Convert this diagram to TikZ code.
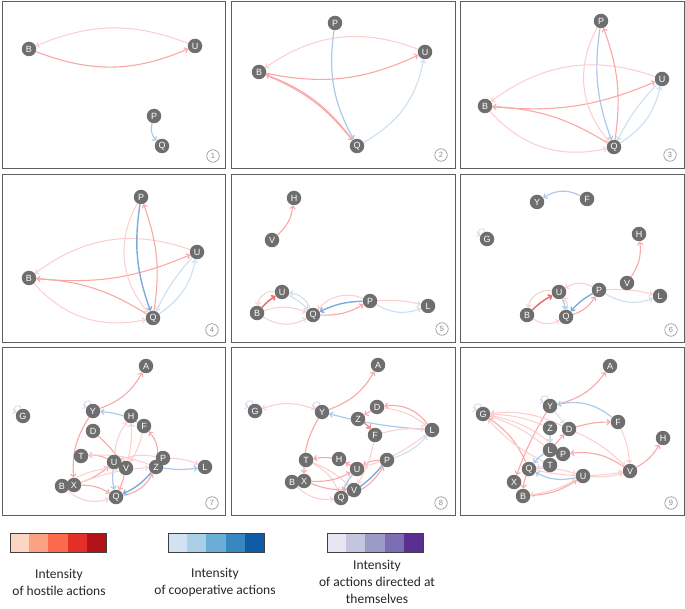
\documentclass[tikz,border=0pt]{standalone}
\usepackage{fontspec}
\setmainfont{Liberation Sans}
\newfontfamily\legfont{Carlito}
\usetikzlibrary{arrows.meta}
\definecolor{ndgray}{HTML}{6E6E6E}
\definecolor{numgray}{HTML}{8A8A8A}
\definecolor{framegray}{HTML}{5E5E5E}
\definecolor{hostA}{HTML}{FCCDCD}
\definecolor{hostB}{HTML}{F9A8A8}
\definecolor{hostC}{HTML}{F58585}
\definecolor{hostD}{HTML}{EF6C6C}
\definecolor{coopA}{HTML}{CCDFF1}
\definecolor{coopB}{HTML}{A9CAEA}
\definecolor{coopC}{HTML}{7DACDA}
\definecolor{selfA}{HTML}{DCD4EC}
\definecolor{rA}{HTML}{FDD5C3}
\definecolor{rB}{HTML}{FCA183}
\definecolor{rC}{HTML}{FB6A4A}
\definecolor{rD}{HTML}{E32F27}
\definecolor{rE}{HTML}{B11218}
\definecolor{bA}{HTML}{D1E2F3}
\definecolor{bB}{HTML}{ABCFE6}
\definecolor{bC}{HTML}{6AAED6}
\definecolor{bD}{HTML}{3787C0}
\definecolor{bE}{HTML}{0F5BA5}
\definecolor{uA}{HTML}{E8E6F2}
\definecolor{uB}{HTML}{C6C5E0}
\definecolor{uC}{HTML}{9E9AC8}
\definecolor{uD}{HTML}{7D6DB5}
\definecolor{uE}{HTML}{5B2F92}
\pgfdeclarelayer{edgelayer}
\pgfsetlayers{edgelayer,main}
\begin{document}
\begin{tikzpicture}[x=1pt,y=-1pt,
  >={Straight Barb[length=2.8pt,width=5.5pt]},
  nd/.style={circle, fill=ndgray, text=white, inner sep=0pt, minimum size=14.5pt, font=\fontsize{9}{9}\selectfont},
  numlab/.style={circle, draw=numgray, line width=0.6pt, text=numgray, inner sep=0pt, minimum size=12.5pt, font=\fontsize{7.5}{8}\selectfont},
  panel/.style={draw=framegray, line width=0.9pt},
  hA/.style={->, draw=hostA, line width=1pt},
  hB/.style={->, draw=hostB, line width=1.1pt},
  hC/.style={->, draw=hostC, line width=1.3pt},
  hD/.style={->, draw=hostD, line width=1.5pt},
  cA/.style={->, draw=coopA, line width=1.1pt},
  cB/.style={->, draw=coopB, line width=1.2pt},
  cC/.style={->, draw=coopC, line width=1.4pt},
  sA/.style={->, draw=selfA, line width=0.8pt},
  legframe/.style={draw=black!75, line width=0.8pt},
  legtext/.style={align=center, font=\legfont\fontsize{13.5}{17}\selectfont, text=black!85}
]
\useasboundingbox (0,0) rectangle (685,609);
% frames
\draw[panel] (2,1) rectangle (225,168);
\draw[panel] (231,1) rectangle (455,168);
\draw[panel] (460,1) rectangle (684,168);
\draw[panel] (2,174) rectangle (225,342);
\draw[panel] (231,174) rectangle (455,342);
\draw[panel] (460,174) rectangle (684,342);
\draw[panel] (2,347) rectangle (225,515);
\draw[panel] (231,347) rectangle (455,515);
\draw[panel] (460,347) rectangle (684,515);

% ---------- panel 1
\node[nd] (p1B) at (29,49) {B};
\node[nd] (p1U) at (195,46) {U};
\node[nd] (p1P) at (154,116) {P};
\node[nd] (p1Q) at (162,146) {Q};
\node[numlab] (n1) at (213,156) {1};
% ---------- panel 2
\node[nd] (p2P) at (335,23) {P};
\node[nd] (p2U) at (425,52) {U};
\node[nd] (p2B) at (259,72) {B};
\node[nd] (p2Q) at (357,146) {Q};
\node[numlab] (n2) at (441,155) {2};
% ---------- panel 3
\node[nd] (p3P) at (601,21) {P};
\node[nd] (p3U) at (662,79) {U};
\node[nd] (p3B) at (485,106) {B};
\node[nd] (p3Q) at (614,147) {Q};
\node[numlab] (n3) at (670,155) {3};
% ---------- panel 4
\node[nd] (p4P) at (141,197) {P};
\node[nd] (p4U) at (197,252) {U};
\node[nd] (p4B) at (29,278) {B};
\node[nd] (p4Q) at (153,318) {Q};
\node[numlab] (n4) at (212,330) {4};
% ---------- panel 5
\node[nd] (p5H) at (294,198) {H};
\node[nd] (p5V) at (272,240) {V};
\node[nd] (p5U) at (282,292) {U};
\node[nd] (p5B) at (257,313) {B};
\node[nd] (p5Q) at (313,315) {Q};
\node[nd] (p5P) at (370,301) {P};
\node[nd] (p5L) at (428,306) {L};
\node[numlab] (n5) at (442,329) {5};
% ---------- panel 6
\node[nd] (p6Y) at (537,202) {Y};
\node[nd] (p6F) at (587,199) {F};
\node[nd] (p6G) at (487,239) {G};
\node[nd] (p6H) at (639,234) {H};
\node[nd] (p6V) at (627,283) {V};
\node[nd] (p6U) at (559,292) {U};
\node[nd] (p6P) at (599,290) {P};
\node[nd] (p6L) at (660,296) {L};
\node[nd] (p6B) at (527,315) {B};
\node[nd] (p6Q) at (566,317) {Q};
\node[numlab] (n6) at (671,330) {6};
% ---------- panel 7
\node[nd] (p7A) at (146,366) {A};
\node[nd] (p7G) at (23,416) {G};
\node[nd] (p7Y) at (93,411) {Y};
\node[nd] (p7H) at (131,416) {H};
\node[nd] (p7F) at (144,426) {F};
\node[nd] (p7D) at (93,431) {D};
\node[nd] (p7T) at (81,456) {T};
\node[nd] (p7U) at (114,462) {U};
\node[nd] (p7V) at (126,468) {V};
\node[nd] (p7P) at (163,458) {P};
\node[nd] (p7Z) at (156,467) {Z};
\node[nd] (p7L) at (205,467) {L};
\node[nd] (p7B) at (62,486) {B};
\node[nd] (p7X) at (74,485) {X};
\node[nd] (p7Q) at (116,497) {Q};
\node[numlab] (n7) at (212,503) {7};
% ---------- panel 8
\node[nd] (p8A) at (378,365) {A};
\node[nd] (p8G) at (255,411) {G};
\node[nd] (p8Y) at (322,412) {Y};
\node[nd] (p8D) at (377,407) {D};
\node[nd] (p8Z) at (358,419) {Z};
\node[nd] (p8F) at (375,435) {F};
\node[nd] (p8L) at (432,430) {L};
\node[nd] (p8T) at (306,460) {T};
\node[nd] (p8H) at (339,459) {H};
\node[nd] (p8U) at (357,469) {U};
\node[nd] (p8P) at (387,460) {P};
\node[nd] (p8B) at (292,482) {B};
\node[nd] (p8X) at (304,481) {X};
\node[nd] (p8Q) at (341,498) {Q};
\node[nd] (p8V) at (354,490) {V};
\node[numlab] (n8) at (441,503) {8};
% ---------- panel 9
\node[nd] (p9A) at (610,366) {A};
\node[nd] (p9Y) at (550,406) {Y};
\node[nd] (p9G) at (483,414) {G};
\node[nd] (p9F) at (618,422) {F};
\node[nd] (p9Z) at (550,428) {Z};
\node[nd] (p9D) at (569,429) {D};
\node[nd] (p9H) at (663,438) {H};
\node[nd] (p9L) at (550,450) {L};
\node[nd] (p9P) at (563,454) {P};
\node[nd] (p9T) at (550,465) {T};
\node[nd] (p9Q) at (529,469) {Q};
\node[nd] (p9V) at (630,471) {V};
\node[nd] (p9U) at (583,476) {U};
\node[nd] (p9X) at (514,482) {X};
\node[nd] (p9B) at (523,496) {B};
\node[numlab] (n9) at (671,503) {9};

\begin{pgfonlayer}{edgelayer}
% panel 1
\draw[hB] (p1B) to[bend right=22] (p1U);
\draw[hA] (p1U) to[bend right=22] (p1B);
\draw[cB] (p1P) to[bend right=30] (p1Q);
% panel 2
\draw[hA] (p2U) to[bend right=28] (p2B);
\draw[hB] (p2B) to[bend right=18] (p2U);
\draw[hB] (p2B) to[bend left=14] (p2Q);
\draw[hB] (p2Q) to[bend right=16] (p2B);
\draw[cB] (p2P) to[bend right=18] (p2Q);
\draw[cA] (p2Q) to[bend right=25] (p2U);
% panel 3
\draw[hA] (p3U) to[bend right=28] (p3B);
\draw[hB] (p3B) to[bend right=14] (p3U);
\draw[hB] (p3Q) to[bend right=14] (p3B);
\draw[hA] (p3B) to[bend right=30] (p3Q);
\draw[cB] (p3P) to[bend right=14] (p3Q);
\draw[hB] (p3Q) to[bend right=14] (p3P);
\draw[hA] (p3P) to[bend right=35] (p3Q);
\draw[cA] (p3Q) to[bend right=22] (p3U);
\draw[cA] (p3U) to[bend right=8] (p3Q);
% panel 4
\draw[hA] (p4U) to[bend right=28] (p4B);
\draw[hB] (p4B) to[bend right=14] (p4U);
\draw[hB] (p4Q) to[bend right=14] (p4B);
\draw[hA] (p4B) to[bend right=30] (p4Q);
\draw[cC] (p4P) to[bend right=14] (p4Q);
\draw[hB] (p4Q) to[bend right=14] (p4P);
\draw[hA] (p4P) to[bend right=35] (p4Q);
\draw[cA] (p4Q) to[bend right=22] (p4U);
\draw[cA] (p4U) to[bend right=8] (p4Q);
% panel 5
\draw[hB] (p5V) to[bend right=20] (p5H);
\draw[hD] (p5B) to[bend left=8] (p5U);
\draw[hA] (p5U) to[bend right=45] (p5B);
\draw[hA] (p5B) to[bend right=30] (p5Q);
\draw[hA] (p5B) to[bend left=20] (p5Q);
\draw[cA] (p5U) to[bend left=10] (p5Q);
\draw[cA] (p5Q) to[bend right=30] (p5U);
\draw[hB] (p5Q) to[bend right=15] (p5P);
\draw[hA] (p5P) to[bend right=35] (p5Q);
\draw[cC] (p5P) to[bend right=12] (p5Q);
\draw[hA] (p5P) to[bend left=8] (p5L);
\draw[cA] (p5P) to[bend right=25] (p5L);
% panel 6
\draw[cB] (p6F) to[bend right=30] (p6Y);
\draw[sA] (p6G.105) to[out=100,in=160,looseness=3.5] (p6G.150);
\draw[hB] (p6V) to[bend right=20] (p6H);
\draw[hA] (p6P) to[bend right=30] (p6U);
\draw[hD] (p6B) to[bend left=8] (p6U);
\draw[hA] (p6U) to[bend right=45] (p6B);
\draw[hA] (p6B) to[bend right=30] (p6Q);
\draw[hB] (p6Q) to[bend right=20] (p6P);
\draw[cC] (p6P) to[bend right=10] (p6Q);
\draw[cB] (p6U) to[bend left=10] (p6Q);
\draw[hA] (p6Q) to[bend right=25] (p6U);
\draw[hA] (p6P) to[bend left=8] (p6L);
\draw[cA] (p6P) to[bend right=25] (p6L);
% panel 7
\draw[hB] (p7Y) to[bend right=20] (p7A);
\draw[cB] (p7F) to[bend right=12] (p7Y);
\draw[sA] (p7Y.105) to[out=100,in=160,looseness=3.5] (p7Y.150);
\draw[sA] (p7G.105) to[out=100,in=160,looseness=3.5] (p7G.150);
\draw[hB] (p7Y) to[bend right=18] (p7X);
\draw[hB] (p7X) to[bend right=10] (p7U);
\draw[hB] (p7X) to[bend left=15] (p7Q);
\draw[hA] (p7B) to[bend right=28] (p7Q);
\draw[hB] (p7Q) to[bend right=25] (p7Z);
\draw[hB] (p7D) to[bend left=5] (p7V);
\draw[hB] (p7U) to[bend right=15] (p7T);
\draw[hA] (p7Z) to[bend right=12] (p7T);
\draw[hA] (p7V) to[bend right=8] (p7H);
\draw[hA] (p7U) to[bend left=15] (p7H);
\draw[hB] (p7Z) to[bend right=25] (p7F);
\draw[hA] (p7P) to[bend left=10] (p7L);
\draw[cB] (p7Z) to[bend right=8] (p7L);
\draw[cB] (p7U) to[bend right=10] (p7Q);
\draw[cC] (p7Z) to[bend left=12] (p7Q);
\draw[hB] (p7V) to[bend left=5] (p7Q);
\draw[hA] (p7P) to[bend right=15] (p7U);
\draw[hA] (p7X) to[bend left=8] (p7Z);
\draw[hA] (p7F) to[bend left=10] (p7V);
\draw[hA] (p7B) to[bend left=15] (p7V);
% panel 8
\draw[hB] (p8Y) to[bend right=20] (p8A);
\draw[hA] (p8Y) to[bend right=20] (p8G);
\draw[sA] (p8Y.105) to[out=100,in=160,looseness=3.5] (p8Y.150);
\draw[sA] (p8G.105) to[out=100,in=160,looseness=3.5] (p8G.150);
\draw[cB] (p8L) to[bend left=5] (p8Y);
\draw[hC] (p8Z) to[bend left=10] (p8F);
\draw[hB] (p8D) to (p8Z);
\draw[hB] (p8L) to[bend right=30] (p8D);
\draw[hA] (p8D) to[bend left=15] (p8L);
\draw[hA] (p8F) to[bend left=10] (p8L);
\draw[hB] (p8Y) to[bend right=15] (p8X);
\draw[hB] (p8U) to[bend right=20] (p8T);
\draw[hA] (p8T) to[bend left=10] (p8V);
\draw[hA] (p8T) to[bend left=20] (p8Q);
\draw[hB] (p8U) to (p8H);
\draw[hB] (p8P) to[bend right=15] (p8U);
\draw[cB] (p8U) to[bend right=10] (p8Q);
\draw[cC] (p8P) to[bend left=10] (p8Q);
\draw[hB] (p8X) to[bend right=15] (p8U);
\draw[hA] (p8B) to[bend right=25] (p8Q);
\draw[hB] (p8Q) to[bend right=20] (p8P);
\draw[cA] (p8P) to[bend right=15] (p8L);
\draw[hA] (p8F) to[bend left=10] (p8V);
\draw[hA] (p8L) to[bend left=10] (p8U);
\draw[hB] (p8X) to[bend right=10] (p8V);
% panel 9
\draw[hB] (p9Y) to[bend right=20] (p9A);
\draw[cB] (p9F) to[bend right=25] (p9Y);
\draw[sA] (p9Y.105) to[out=100,in=160,looseness=3.5] (p9Y.150);
\draw[sA] (p9G.105) to[out=100,in=160,looseness=3.5] (p9G.150);
\draw[hB] (p9Y) to[bend right=5] (p9X);
\draw[hB] (p9Q) to[bend right=15] (p9G);
\draw[hA] (p9D) to[bend right=15] (p9G);
\draw[hA] (p9Z) to[bend right=10] (p9G);
\draw[hA] (p9L) to[bend right=10] (p9G);
\draw[hA] (p9P) to[bend right=15] (p9G);
\draw[hA] (p9T) to[bend left=10] (p9G);
\draw[hB] (p9D) to[bend left=8] (p9F);
\draw[hA] (p9F) to[bend left=10] (p9V);
\draw[hB] (p9V) to[bend right=15] (p9H);
\draw[hB] (p9V) to[bend right=20] (p9P);
\draw[hA] (p9Q) to[bend right=10] (p9V);
\draw[hA] (p9D) to[bend left=10] (p9V);
\draw[hB] (p9B) to[bend right=15] (p9U);
\draw[cB] (p9U) to[bend left=20] (p9Q);
\draw[cB] (p9L) to[bend right=10] (p9Q);
\draw[cA] (p9T) to (p9Q);
\draw[cA] (p9Z) to (p9L);
\draw[hB] (p9L) to (p9D);
\draw[hB] (p9Q) to[bend right=10] (p9B);
\draw[hA] (p9U) to[bend left=10] (p9B);
\draw[hA] (p9Q) to[bend left=10] (p9U);
\draw[sA] (p9Y) to (p9D);
\draw[hA] (p9U) to[bend right=10] (p9V);
\end{pgfonlayer}

% ---------- legend
\foreach \i/\c in {0/rA,1/rB,2/rC,3/rD,4/rE}
  \fill[\c] (10+\i*19.2,533) rectangle ++(19.2,19);
\draw[legframe] (10,533) rectangle (106,552);
\foreach \i/\c in {0/bA,1/bB,2/bC,3/bD,4/bE}
  \fill[\c] (168+\i*19.2,533) rectangle ++(19.2,19);
\draw[legframe] (168,533) rectangle (264,552);
\foreach \i/\c in {0/uA,1/uB,2/uC,3/uD,4/uE}
  \fill[\c] (327+\i*19.2,533) rectangle ++(19.2,19);
\draw[legframe] (327,533) rectangle (423,552);
\node[legtext] (t1) at (59,582) {Intensity\\of hostile actions};
\node[legtext] (t2) at (215,582) {Intensity\\of cooperative actions};
\node[legtext] (t3) at (377,582) {Intensity\\of actions directed at\\themselves};
\end{tikzpicture}
\end{document}
